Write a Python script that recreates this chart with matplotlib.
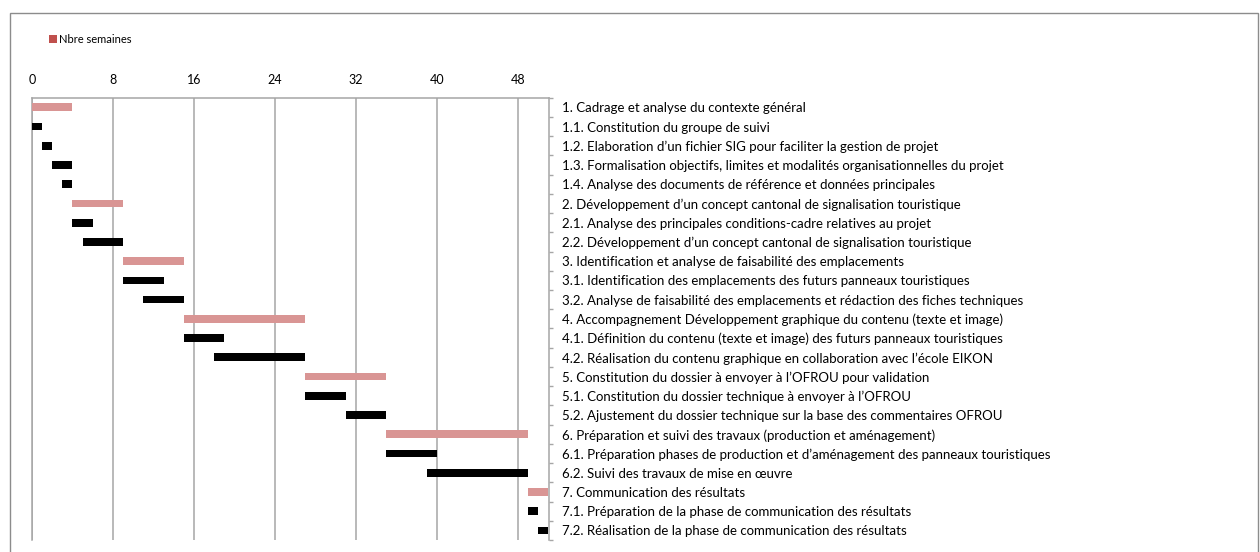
import numpy as np
import matplotlib
matplotlib.use('Agg')
import matplotlib.pyplot as plt
from matplotlib.patches import Patch, Rectangle

plt.rcParams['font.family'] = ['Lato', 'DejaVu Sans']

# Tasks (top to bottom), start week, duration in weeks, type
tasks = [
    "1. Cadrage et analyse du contexte général",
    "1.1. Constitution du groupe de suivi",
    "1.2. Elaboration d’un fichier SIG pour faciliter la gestion de projet",
    "1.3. Formalisation objectifs, limites et modalités organisationnelles du projet",
    "1.4. Analyse des documents de référence et données principales",
    "2. Développement d’un concept cantonal de signalisation touristique",
    "2.1. Analyse des principales conditions-cadre relatives au projet",
    "2.2. Développement d’un concept cantonal de signalisation touristique",
    "3. Identification et analyse de faisabilité des emplacements",
    "3.1. Identification des emplacements des futurs panneaux touristiques",
    "3.2. Analyse de faisabilité des emplacements et rédaction des fiches techniques",
    "4. Accompagnement Développement graphique du contenu (texte et image)",
    "4.1. Définition du contenu (texte et image) des futurs panneaux touristiques",
    "4.2. Réalisation du contenu graphique en collaboration avec l’école EIKON",
    "5. Constitution du dossier à envoyer à l’OFROU pour validation",
    "5.1. Constitution du dossier technique à envoyer à l’OFROU",
    "5.2. Ajustement du dossier technique sur la base des commentaires OFROU",
    "6. Préparation et suivi des travaux (production et aménagement)",
    "6.1. Préparation phases de production et d’aménagement des panneaux touristiques",
    "6.2. Suivi des travaux de mise en œuvre",
    "7. Communication des résultats",
    "7.1. Préparation de la phase de communication des résultats",
    "7.2. Réalisation de la phase de communication des résultats",
]
start_week = [0, 0, 1, 2, 3, 4, 4, 5, 9, 9, 11, 15, 15, 18, 27, 27, 31, 35, 35, 39, 49, 49, 50]
nb_weeks = [4, 1, 1, 2, 1, 5, 2, 4, 6, 4, 4, 12, 4, 9, 8, 4, 4, 14, 5, 10, 2, 1, 1]
is_phase = [True, False, False, False, False, True, False, False, True, False, False,
            True, False, False, True, False, False, True, False, False, True, False, False]
x_ticks = [0, 8, 16, 24, 32, 40, 48]

PHASE_COLOR = '#D99594'
SUB_COLOR = '#000000'
GRID_COLOR = '#A6A6A6'

fig = plt.figure(figsize=(12.6, 5.52), dpi=100)
W, H = 1260, 552
ax = fig.add_axes([32 / W, 1 - 540 / H, (549 - 32) / W, (540 - 97.7) / H])

n = len(tasks)
y = np.arange(n)
colors = [PHASE_COLOR if p else SUB_COLOR for p in is_phase]
ax.barh(y, nb_weeks, left=start_week, height=0.4, color=colors, zorder=3)

ax.set_xlim(0, 51.1)
ax.set_ylim(n - 0.5, -0.5)

# x axis on top, vertical grid
ax.xaxis.tick_top()
ax.set_xticks(x_ticks)
ax.tick_params(axis='x', length=0, pad=8.5, labelsize=9, colors='black')
ax.grid(axis='x', color=GRID_COLOR, linewidth=1.1, zorder=0)

# category axis on the right
ax.yaxis.tick_right()
ax.set_yticks(np.arange(-0.5, n, 1))
ax.set_yticklabels([])
ax.set_yticks(y, minor=True)
ax.set_yticklabels(tasks, minor=True)
ax.tick_params(axis='y', which='major', length=3, width=1, color=GRID_COLOR, direction='out')
ax.tick_params(axis='y', which='minor', length=0, pad=9, labelsize=9.5)

for side in ['top', 'left', 'right']:
    ax.spines[side].set_color(GRID_COLOR)
    ax.spines[side].set_linewidth(1.1)
ax.spines['bottom'].set_visible(False)

# legend
fig.legend(handles=[Patch(facecolor='#C0504D', label='Nbre semaines')],
           loc='center left', bbox_to_anchor=(49 / W, 1 - 39.5 / H), frameon=False,
           borderpad=0, borderaxespad=0,
           handlelength=0.72, handleheight=0.72, handletextpad=0.2, fontsize=8)

# outer chart frame
fig.patches.append(Rectangle((9.5 / W, -0.05), (1258 - 9.5) / W, 1.05 - 12.5 / H,
                             transform=fig.transFigure, fill=False,
                             edgecolor='#8C8C8C', linewidth=1))

fig.savefig('out.png', dpi=100)
